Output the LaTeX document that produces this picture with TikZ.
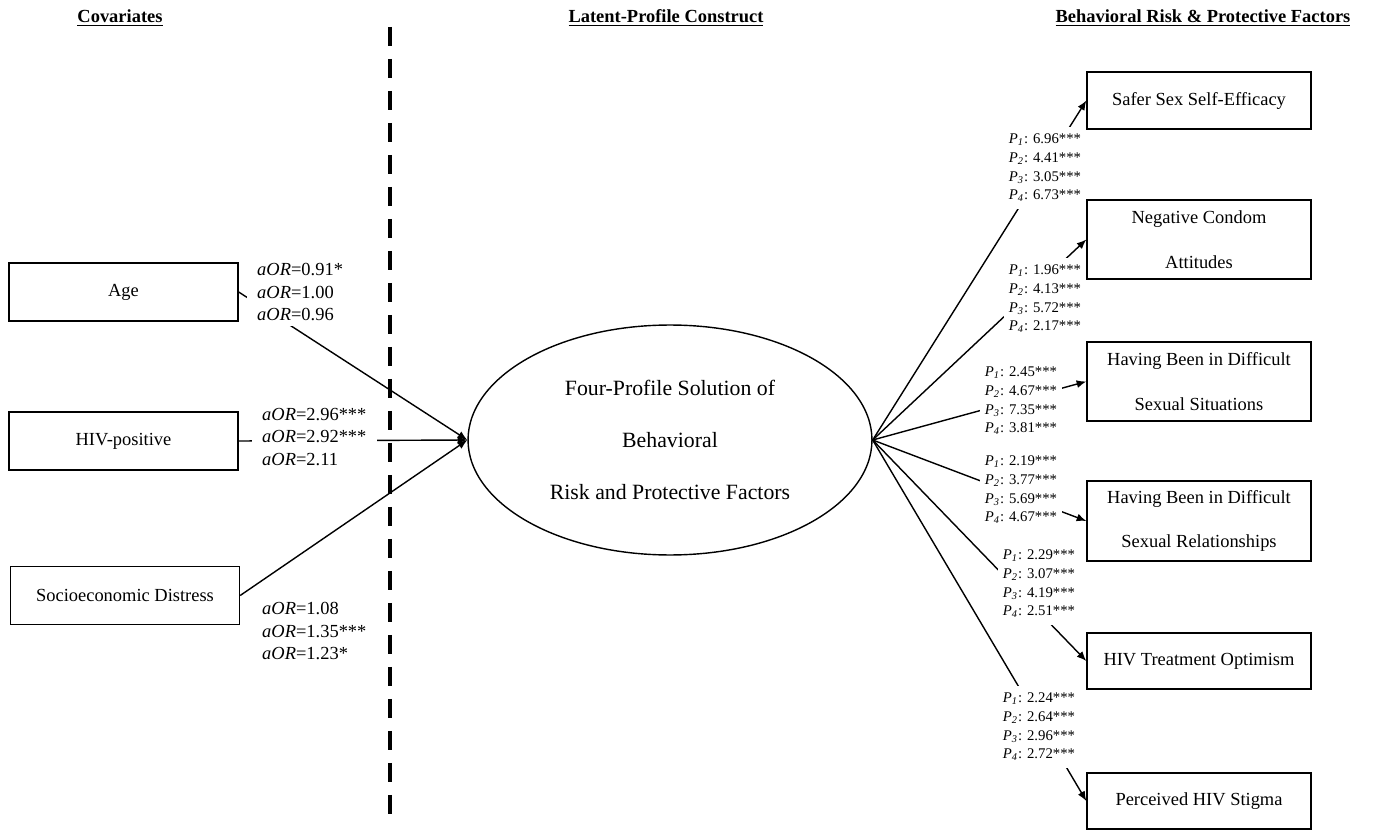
\documentclass[tikz,border=0pt]{standalone}
\usepackage{fontspec}
\setmainfont{Liberation Serif}
\usetikzlibrary{shapes.geometric, arrows.meta}

\begin{document}
\begin{tikzpicture}[x=0.02cm, y=-0.02cm, line width=0.8pt,
    covar/.style={draw, minimum width=4.58cm, minimum height=1.16cm, align=center, font=\fontsize{10.5}{25.5}\selectfont},
    outcome/.style={draw, minimum width=4.48cm, align=center, font=\fontsize{10.5}{25.5}\selectfont},
    latent/.style={draw, ellipse, minimum width=8.08cm, minimum height=4.6cm, align=center, font=\fontsize{12.4}{29.5}\selectfont},
    path/.style={-{Latex[length=5.5pt, width=4.5pt]}},
    aor/.style={fill=white, anchor=west, align=left, inner xsep=6pt, inner ysep=3pt, font=\fontsize{10.5}{12.8}\selectfont},
    pval/.style={fill=white, anchor=west, align=left, inner xsep=3pt, inner ysep=4pt, font=\fontsize{8.4}{10.6}\selectfont},
    header/.style={font=\fontsize{10.5}{12}\selectfont}]
                \useasboundingbox (0,0) rectangle (1373,831);
                \node[header] (hcov) at (120,18) {\underline{\textbf{Covariates}}};
                \node[header] (hlat) at (666,18) {\underline{\textbf{Latent-Profile Construct}}};
                \node[header] (hout) at (1203,18) {\underline{\textbf{Behavioral Risk \& Protective Factors}}};
                \draw[line width=2.3pt, dash pattern=on 0.38cm off 0.26cm] (390,27) -- (390,822);
                \node[covar] (age) at (123.5,292) {Age};
                \node[covar] (hiv) at (123.5,441) {HIV-positive};
                \node[covar] (ses) at (125,595.5) {Socioeconomic Distress};
                \node[latent] (prof) at (670,440) {Four-Profile Solution of\\Behavioral\\Risk and Protective Factors};
                \node[outcome, minimum height=1.14cm] (safer) at (1199,100.5) {Safer Sex Self-Efficacy};
                \node[outcome, minimum height=1.58cm] (cond) at (1199,239.5) {Negative Condom\\Attitudes};
                \node[outcome, minimum height=1.58cm] (situ) at (1199,381.5) {Having Been in Difficult\\Sexual Situations};
                \node[outcome, minimum height=1.6cm] (rela) at (1199,521) {Having Been in Difficult\\Sexual Relationships};
                \node[outcome, minimum height=1.12cm] (optim) at (1199,661) {HIV Treatment Optimism};
                \node[outcome, minimum height=1.12cm] (stig) at (1199,801) {Perceived HIV Stigma};
                \draw[path] (age.east) -- (prof.west);
                \draw[path] (hiv.east) -- (prof.west);
                \draw[path] (ses.east) -- (prof.west);
                \draw[path] (prof.east) -- (safer.west);
                \draw[path] (prof.east) -- (cond.west);
                \draw[path] (prof.east) -- (situ.west);
                \draw[path] (prof.east) -- (rela.west);
                \draw[path] (prof.east) -- (optim.west);
                \draw[path] (prof.east) -- (stig.west);
                \node[aor] (aage) at (246,292) {\textit{aOR}=0.91*\\\textit{aOR}=1.00\\\textit{aOR}=0.96};
                \node[aor] (ahiv) at (251,437) {\textit{aOR}=2.96***\\\textit{aOR}=2.92***\\\textit{aOR}=2.11};
                \node[aor] (ases) at (251,631) {\textit{aOR}=1.08\\\textit{aOR}=1.35***\\\textit{aOR}=1.23*};
                \node[pval] (psafer) at (1003,168) {\textit{P}\textsubscript{\textit{1}}: 6.96***\\\textit{P}\textsubscript{\textit{2}}: 4.41***\\\textit{P}\textsubscript{\textit{3}}: 3.05***\\\textit{P}\textsubscript{\textit{4}}: 6.73***};
                \node[pval] (pcond) at (1003,299) {\textit{P}\textsubscript{\textit{1}}: 1.96***\\\textit{P}\textsubscript{\textit{2}}: 4.13***\\\textit{P}\textsubscript{\textit{3}}: 5.72***\\\textit{P}\textsubscript{\textit{4}}: 2.17***};
                \node[pval] (psitu) at (979,401) {\textit{P}\textsubscript{\textit{1}}: 2.45***\\\textit{P}\textsubscript{\textit{2}}: 4.67***\\\textit{P}\textsubscript{\textit{3}}: 7.35***\\\textit{P}\textsubscript{\textit{4}}: 3.81***};
                \node[pval] (prela) at (979,490) {\textit{P}\textsubscript{\textit{1}}: 2.19***\\\textit{P}\textsubscript{\textit{2}}: 3.77***\\\textit{P}\textsubscript{\textit{3}}: 5.69***\\\textit{P}\textsubscript{\textit{4}}: 4.67***};
                \node[pval] (poptim) at (997,584) {\textit{P}\textsubscript{\textit{1}}: 2.29***\\\textit{P}\textsubscript{\textit{2}}: 3.07***\\\textit{P}\textsubscript{\textit{3}}: 4.19***\\\textit{P}\textsubscript{\textit{4}}: 2.51***};
                \node[pval] (pstig) at (997,727) {\textit{P}\textsubscript{\textit{1}}: 2.24***\\\textit{P}\textsubscript{\textit{2}}: 2.64***\\\textit{P}\textsubscript{\textit{3}}: 2.96***\\\textit{P}\textsubscript{\textit{4}}: 2.72***};
\end{tikzpicture}
\end{document}
